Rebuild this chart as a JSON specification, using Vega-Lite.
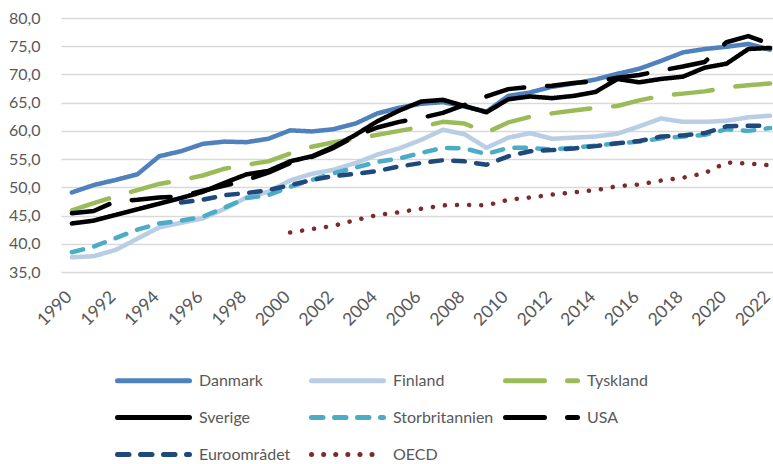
{
  "$schema": "https://vega.github.io/schema/vega-lite/v6.json",
  "autosize": {"type": "none"},
  "padding": {"left": 61, "top": 18, "right": 0, "bottom": 192},
  "width": 720,
  "height": 254,
  "background": "white",
  "config": {
    "view": {"stroke": null},
    "font": "Lato",
    "legend": {
      "orient": "none",
      "direction": "horizontal",
      "legendX": 80,
      "legendY": 350,
      "columns": 3,
      "symbolType": "M-3.6,0H3.6",
      "symbolSize": 400,
      "symbolStrokeWidth": 5,
      "labelFont": "Lato",
      "labelFontSize": 16,
      "labelColor": "#595959",
      "labelOffset": 33,
      "columnPadding": 1,
      "rowPadding": 14,
      "gridAlign": "all",
      "padding": 0
    }
  },
  "data": {
    "values": [
      {"year": 1990, "Danmark": 49.1, "Finland": 37.6, "Tyskland": 45.9, "Sverige": 43.6, "Storbritannien": 38.5, "USA": 45.4, "Euroområdet": null, "OECD": null},
      {"year": 1991, "Danmark": 50.4, "Finland": 37.8, "Tyskland": 47.2, "Sverige": 44.1, "Storbritannien": 39.5, "USA": 45.8, "Euroområdet": null, "OECD": null},
      {"year": 1992, "Danmark": 51.3, "Finland": 38.9, "Tyskland": 48.4, "Sverige": 45.1, "Storbritannien": 41.0, "USA": 47.5, "Euroområdet": null, "OECD": null},
      {"year": 1993, "Danmark": 52.3, "Finland": 40.9, "Tyskland": 49.5, "Sverige": 46.1, "Storbritannien": 42.5, "USA": 47.8, "Euroområdet": null, "OECD": null},
      {"year": 1994, "Danmark": 55.5, "Finland": 42.9, "Tyskland": 50.6, "Sverige": 47.1, "Storbritannien": 43.6, "USA": 48.2, "Euroområdet": null, "OECD": null},
      {"year": 1995, "Danmark": 56.4, "Finland": 43.7, "Tyskland": 51.3, "Sverige": 48.1, "Storbritannien": 44.1, "USA": 48.4, "Euroområdet": 47.3, "OECD": null},
      {"year": 1996, "Danmark": 57.7, "Finland": 44.5, "Tyskland": 52.1, "Sverige": 49.2, "Storbritannien": 44.8, "USA": 49.4, "Euroområdet": 47.8, "OECD": null},
      {"year": 1997, "Danmark": 58.1, "Finland": 46.2, "Tyskland": 53.3, "Sverige": 50.8, "Storbritannien": 46.4, "USA": 50.3, "Euroområdet": 48.6, "OECD": null},
      {"year": 1998, "Danmark": 58.0, "Finland": 48.2, "Tyskland": 54.0, "Sverige": 52.3, "Storbritannien": 48.1, "USA": 51.3, "Euroområdet": 49.0, "OECD": null},
      {"year": 1999, "Danmark": 58.6, "Finland": 49.2, "Tyskland": 54.6, "Sverige": 52.9, "Storbritannien": 48.6, "USA": 52.6, "Euroområdet": 49.5, "OECD": null},
      {"year": 2000, "Danmark": 60.1, "Finland": 51.2, "Tyskland": 56.0, "Sverige": 54.6, "Storbritannien": 50.1, "USA": 54.3, "Euroområdet": 50.4, "OECD": 42.0},
      {"year": 2001, "Danmark": 59.9, "Finland": 52.4, "Tyskland": 57.2, "Sverige": 55.5, "Storbritannien": 51.3, "USA": 55.4, "Euroområdet": 51.3, "OECD": 42.6},
      {"year": 2002, "Danmark": 60.3, "Finland": 53.1, "Tyskland": 58.0, "Sverige": 57.2, "Storbritannien": 52.5, "USA": 57.0, "Euroområdet": 52.0, "OECD": 43.2},
      {"year": 2003, "Danmark": 61.3, "Finland": 54.3, "Tyskland": 58.6, "Sverige": 59.3, "Storbritannien": 53.5, "USA": 59.1, "Euroområdet": 52.4, "OECD": 44.2},
      {"year": 2004, "Danmark": 63.1, "Finland": 55.8, "Tyskland": 59.3, "Sverige": 61.7, "Storbritannien": 54.5, "USA": 60.6, "Euroområdet": 52.9, "OECD": 45.1},
      {"year": 2005, "Danmark": 64.1, "Finland": 56.9, "Tyskland": 60.0, "Sverige": 63.6, "Storbritannien": 55.1, "USA": 61.6, "Euroområdet": 53.7, "OECD": 45.6},
      {"year": 2006, "Danmark": 64.8, "Finland": 58.4, "Tyskland": 60.7, "Sverige": 65.2, "Storbritannien": 56.1, "USA": 62.3, "Euroområdet": 54.3, "OECD": 46.2},
      {"year": 2007, "Danmark": 65.1, "Finland": 60.2, "Tyskland": 61.6, "Sverige": 65.5, "Storbritannien": 57.0, "USA": 63.2, "Euroområdet": 54.8, "OECD": 46.8},
      {"year": 2008, "Danmark": 64.3, "Finland": 59.4, "Tyskland": 61.3, "Sverige": 64.4, "Storbritannien": 56.9, "USA": 64.6, "Euroområdet": 54.6, "OECD": 46.9},
      {"year": 2009, "Danmark": 63.4, "Finland": 57.0, "Tyskland": 59.7, "Sverige": 63.3, "Storbritannien": 55.9, "USA": 66.1, "Euroområdet": 54.0, "OECD": 46.8},
      {"year": 2010, "Danmark": 66.2, "Finland": 58.8, "Tyskland": 61.5, "Sverige": 65.6, "Storbritannien": 57.0, "USA": 67.4, "Euroområdet": 55.5, "OECD": 47.8},
      {"year": 2011, "Danmark": 66.8, "Finland": 59.6, "Tyskland": 62.5, "Sverige": 66.1, "Storbritannien": 57.0, "USA": 67.8, "Euroområdet": 56.4, "OECD": 48.2},
      {"year": 2012, "Danmark": 67.8, "Finland": 58.6, "Tyskland": 63.1, "Sverige": 65.8, "Storbritannien": 56.7, "USA": 68.0, "Euroområdet": 56.6, "OECD": 48.7},
      {"year": 2013, "Danmark": 68.4, "Finland": 58.8, "Tyskland": 63.6, "Sverige": 66.2, "Storbritannien": 57.0, "USA": 68.5, "Euroområdet": 56.9, "OECD": 49.1},
      {"year": 2014, "Danmark": 69.1, "Finland": 59.0, "Tyskland": 64.1, "Sverige": 66.9, "Storbritannien": 57.4, "USA": 68.8, "Euroområdet": 57.3, "OECD": 49.5},
      {"year": 2015, "Danmark": 70.1, "Finland": 59.5, "Tyskland": 64.4, "Sverige": 69.2, "Storbritannien": 57.8, "USA": 69.4, "Euroområdet": 57.8, "OECD": 50.2},
      {"year": 2016, "Danmark": 71.0, "Finland": 60.8, "Tyskland": 65.4, "Sverige": 68.6, "Storbritannien": 58.1, "USA": 69.9, "Euroområdet": 58.2, "OECD": 50.5},
      {"year": 2017, "Danmark": 72.4, "Finland": 62.2, "Tyskland": 66.2, "Sverige": 69.2, "Storbritannien": 58.7, "USA": 70.7, "Euroområdet": 59.0, "OECD": 51.2},
      {"year": 2018, "Danmark": 73.9, "Finland": 61.6, "Tyskland": 66.6, "Sverige": 69.6, "Storbritannien": 59.0, "USA": 71.4, "Euroområdet": 59.2, "OECD": 51.7},
      {"year": 2019, "Danmark": 74.5, "Finland": 61.6, "Tyskland": 67.0, "Sverige": 71.2, "Storbritannien": 59.3, "USA": 72.2, "Euroområdet": 59.6, "OECD": 52.5},
      {"year": 2020, "Danmark": 74.9, "Finland": 61.8, "Tyskland": 67.7, "Sverige": 71.9, "Storbritannien": 60.3, "USA": 75.7, "Euroområdet": 60.8, "OECD": 54.4},
      {"year": 2021, "Danmark": 75.4, "Finland": 62.4, "Tyskland": 68.1, "Sverige": 74.5, "Storbritannien": 60.0, "USA": 76.8, "Euroområdet": 60.9, "OECD": 54.2},
      {"year": 2022, "Danmark": 74.4, "Finland": 62.7, "Tyskland": 68.4, "Sverige": 74.7, "Storbritannien": 60.5, "USA": 75.4, "Euroområdet": 60.9, "OECD": 53.9}
    ]
  },
  "transform": [
    {"fold": ["Danmark", "Finland", "Tyskland", "Sverige", "Storbritannien", "USA", "Euroområdet", "OECD"], "as": ["serie", "v"]},
    {"filter": "datum.v != null"}
  ],
  "mark": {"type": "line", "strokeWidth": 4.5, "strokeCap": "round", "strokeJoin": "round"},
  "encoding": {
    "x": {
      "field": "year", "type": "quantitative",
      "scale": {"domain": [1989.5, 2022.5], "nice": false, "zero": false},
      "axis": {
        "title": null, "values": [1990, 1992, 1994, 1996, 1998, 2000, 2002, 2004, 2006, 2008, 2010, 2012, 2014, 2016, 2018, 2020, 2022],
        "format": "d", "labelAngle": -45, "labelAlign": "right", "labelBaseline": "middle",
        "labelPadding": 22, "labelOffset": -3, "tickSize": 0, "ticks": false, "domain": false, "grid": false,
        "labelFont": "Lato", "labelFontSize": 17.5, "labelColor": "#595959", "labelOverlap": false, "labelFlush": false
      }
    },
    "y": {
      "field": "v", "type": "quantitative",
      "scale": {"domain": [35, 80], "nice": false, "zero": false},
      "axis": {
        "title": null, "values": [35, 40, 45, 50, 55, 60, 65, 70, 75, 80],
        "labelExpr": "replace(format(datum.value, '.1f'), '.', ',')",
        "tickSize": 0, "ticks": false, "domain": false, "grid": true,
        "gridColor": "#D9D9D9", "gridWidth": 1.5, "labelPadding": 21,
        "labelFont": "Lato", "labelFontSize": 16, "labelColor": "#595959"
      }
    },
    "color": {
      "field": "serie", "type": "nominal", "title": null,
      "scale": {
        "domain": ["Danmark", "Finland", "Tyskland", "Sverige", "Storbritannien", "USA", "Euroområdet", "OECD"],
        "range": ["#4F81BD", "#B9CDE5", "#9BBB59", "#000000", "#4BACC6", "#000000", "#1F497D", "#7B2C2A"]
      },
      "legend": {"encode": {"symbols": {"update": {"strokeCap": {"value": "round"}}}}}
    },
    "strokeDash": {
      "field": "serie", "type": "nominal", "title": null,
      "scale": {
        "domain": ["Danmark", "Finland", "Tyskland", "Sverige", "Storbritannien", "USA", "Euroområdet", "OECD"],
        "range": [[1, 0], [1, 0], [39, 23], [1, 0], [11.5, 11.5], [39, 23], [11.5, 11.5], [0.1, 12]]
      },
      "legend": {"encode": {"symbols": {"update": {"strokeCap": {"value": "round"}}}}}
    }
  }
}
